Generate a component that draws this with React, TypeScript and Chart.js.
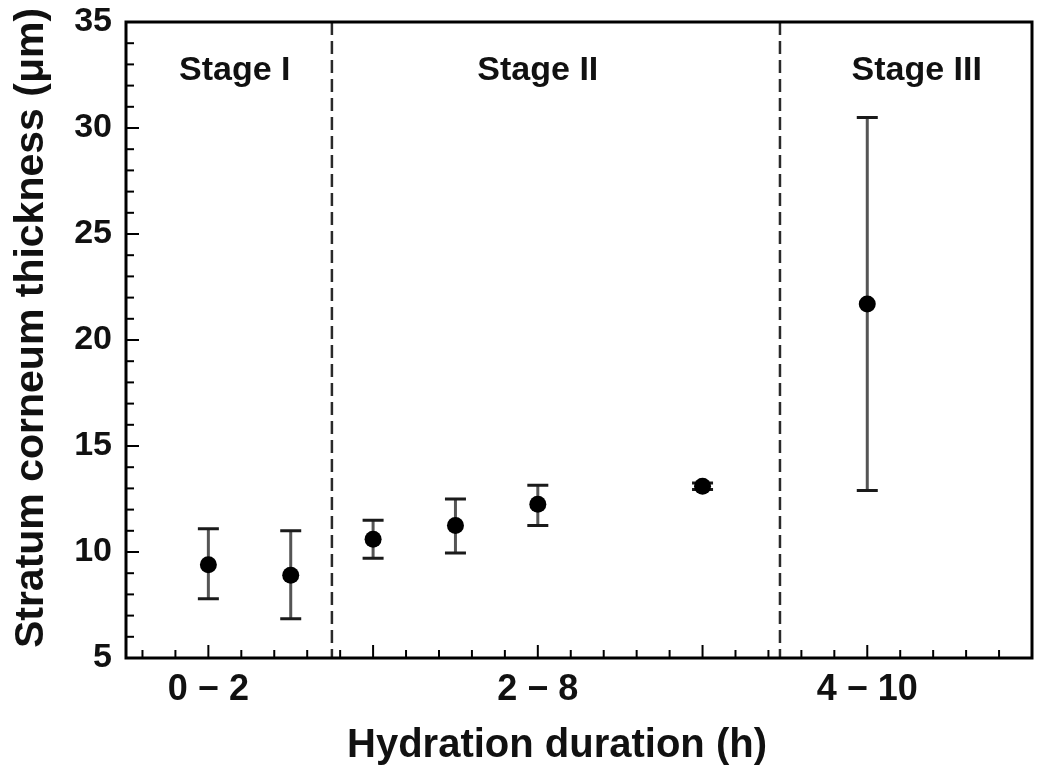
import React, { useEffect, useRef } from 'react';
import { Chart, registerables } from 'chart.js';

Chart.register(...registerables);

// ---- data ----
const categoryLabels = ['0 − 2', '2 − 8', '4 − 10'];
const categoryPositions = [0, 2, 4];
const xPositions = [0, 0.5, 1, 1.5, 2, 3, 4];
const meanThickness = [9.4, 8.9, 10.6, 11.25, 12.25, 13.1, 21.7];
const errorUpper = [11.1, 11.0, 11.5, 12.5, 13.15, 13.25, 30.5];
const errorLower = [7.8, 6.85, 9.7, 9.95, 11.25, 12.95, 12.9];
const stageNames = ['Stage I', 'Stage II', 'Stage III'];
const stageLabelX = [0.16, 2.0, 4.3];
const stageLabelY = 32.26;
const stageBoundaries = [0.75, 3.47];
const xTitle = 'Hydration duration (h)';
const yTitle = 'Stratum corneum thickness (μm)';
const yMin = 5;
const yMax = 35;
const yStep = 5;
const xMin = -0.5;
const xMax = 5;

const FONT = "'Liberation Sans', Arial, Helvetica, sans-serif";

const decorPlugin = {
  id: 'decor',
  beforeDatasetsDraw(chart: any) {
    const { ctx, chartArea } = chart;
    const xs = chart.scales.x;
    const ys = chart.scales.y;
    ctx.save();
    // stage boundaries
    ctx.strokeStyle = '#2a2a2a';
    ctx.lineWidth = 2.5;
    ctx.setLineDash([13, 6]);
    stageBoundaries.forEach((b) => {
      const px = xs.getPixelForValue(b);
      ctx.beginPath();
      ctx.moveTo(px, chartArea.top);
      ctx.lineTo(px, chartArea.bottom);
      ctx.stroke();
    });
    ctx.setLineDash([]);
    // error bars
    xPositions.forEach((x, i) => {
      const px = xs.getPixelForValue(x);
      const pTop = ys.getPixelForValue(errorUpper[i]);
      const pBot = ys.getPixelForValue(errorLower[i]);
      ctx.strokeStyle = '#555';
      ctx.lineWidth = 3;
      ctx.beginPath();
      ctx.moveTo(px, pTop);
      ctx.lineTo(px, pBot);
      ctx.stroke();
      ctx.strokeStyle = '#1a1a1a';
      ctx.beginPath();
      ctx.moveTo(px - 10.5, pTop);
      ctx.lineTo(px + 10.5, pTop);
      ctx.moveTo(px - 10.5, pBot);
      ctx.lineTo(px + 10.5, pBot);
      ctx.stroke();
    });
    ctx.restore();
  },
  afterDraw(chart: any) {
    const { ctx, chartArea } = chart;
    const xs = chart.scales.x;
    const ys = chart.scales.y;
    ctx.save();
    // frame
    ctx.strokeStyle = '#000';
    ctx.lineWidth = 3;
    ctx.strokeRect(chartArea.left, chartArea.top, chartArea.right - chartArea.left, chartArea.bottom - chartArea.top);
    // y ticks (inward)
    ctx.lineWidth = 2;
    for (let i = 1; i < (yMax - yMin); i++) {
      const v = yMin + i;
      const py = ys.getPixelForValue(v);
      const len = v % yStep === 0 ? 13 : 8;
      ctx.beginPath();
      ctx.moveTo(chartArea.left, py);
      ctx.lineTo(chartArea.left + len, py);
      ctx.stroke();
    }
    // x ticks (inward)
    for (let k = -2; k <= 24; k++) {
      const v = k * 0.2;
      const px = xs.getPixelForValue(v);
      const len = k % 5 === 0 ? 13 : 8;
      ctx.beginPath();
      ctx.moveTo(px, chartArea.bottom);
      ctx.lineTo(px, chartArea.bottom - len);
      ctx.stroke();
    }
    // stage labels
    ctx.fillStyle = '#111';
    ctx.font = `bold 34px ${FONT}`;
    ctx.textAlign = 'center';
    ctx.textBaseline = 'alphabetic';
    stageNames.forEach((name, i) => {
      ctx.fillText(name, xs.getPixelForValue(stageLabelX[i]), ys.getPixelForValue(stageLabelY));
    });
    // axis titles
    ctx.font = `bold 40px ${FONT}`;
    ctx.textBaseline = 'alphabetic';
    ctx.fillText(xTitle, 557, 757);
    ctx.save();
    ctx.translate(43, 328);
    ctx.rotate(-Math.PI / 2);
    ctx.font = `bold 41px ${FONT}`;
    ctx.fillText(yTitle, 0, 0);
    ctx.restore();
    ctx.restore();
  },
};

export default function App() {
  const canvasRef = useRef<HTMLCanvasElement | null>(null);

  useEffect(() => {
    if (!canvasRef.current) return;
    const chart = new Chart(canvasRef.current, {
      type: 'scatter',
      data: {
        datasets: [
          {
            data: xPositions.map((x, i) => ({ x, y: meanThickness[i] })),
            pointRadius: 8.5,
            pointHoverRadius: 8.5,
            backgroundColor: '#000',
            borderColor: '#000',
            borderWidth: 0,
            showLine: false,
          },
        ],
      },
      options: {
        responsive: false,
        animation: false,
        events: [],
        layout: { padding: { top: 22, right: 18, left: 0, bottom: 0 } },
        plugins: { legend: { display: false }, tooltip: { enabled: false } },
        scales: {
          x: {
            type: 'linear',
            min: xMin,
            max: xMax,
            grid: { display: false, drawTicks: false },
            border: { display: false },
            afterBuildTicks: (scale: any) => {
              scale.ticks = categoryPositions.map((v) => ({ value: v }));
            },
            afterFit: (scale: any) => {
              scale.height = 119;
              scale.paddingLeft = 0;
              scale.paddingRight = 0;
            },
            ticks: {
              autoSkip: false,
              maxRotation: 0,
              padding: 10,
              color: '#111',
              font: { family: FONT, size: 36, weight: 'bold' },
              callback: (v: any) => {
                const idx = categoryPositions.indexOf(Number(v));
                return idx >= 0 ? categoryLabels[idx] : '';
              },
            },
            title: { display: false },
          },
          y: {
            type: 'linear',
            min: yMin,
            max: yMax,
            grid: { display: false, drawTicks: false },
            border: { display: false },
            afterFit: (scale: any) => {
              scale.width = 126;
              scale.paddingTop = 0;
              scale.paddingBottom = 0;
            },
            ticks: {
              stepSize: yStep,
              padding: 14,
              color: '#111',
              font: { family: FONT, size: 34, weight: 'bold' },
            },
            title: { display: false },
          },
        },
      },
      plugins: [decorPlugin],
    } as any);
    return () => chart.destroy();
  }, []);

  return (
    <div style={{ position: 'absolute', left: 0, top: 0, width: 1050, height: 777, background: '#fff' }}>
      <canvas ref={canvasRef} width={1050} height={777} />
    </div>
  );
}
